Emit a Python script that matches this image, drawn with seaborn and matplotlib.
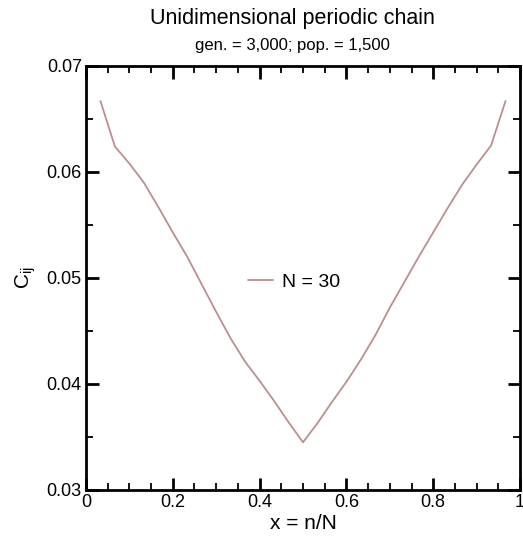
import numpy as np
import pandas as pd
import seaborn as sns
import matplotlib.pyplot as plt
from matplotlib.ticker import MultipleLocator

# Correlation C_ij along a periodic chain of N = 30 sites
n_sites = 30
n_values = list(range(1, 30))
c_ij = [0.0667, 0.0624, 0.0608, 0.0590, 0.0567, 0.0543, 0.0520, 0.0494,
        0.0468, 0.0443, 0.0421, 0.0403, 0.0384, 0.0364, 0.0345, 0.0363,
        0.0383, 0.0402, 0.0423, 0.0446, 0.0472, 0.0496, 0.0520, 0.0543,
        0.0566, 0.0588, 0.0607, 0.0625, 0.0667]

df = pd.DataFrame({"x": np.array(n_values) / n_sites, "C": c_ij})

sns.set_style("ticks")
plt.rcParams['font.family'] = ['Liberation Sans', 'DejaVu Sans']
plt.rcParams['text.color'] = 'black'
plt.rcParams['axes.labelcolor'] = 'black'

fig = plt.figure(figsize=(5.23, 5.4), dpi=100)
ax = fig.add_axes([0.1644, 0.0926, 0.8299, 0.7852])

sns.lineplot(data=df, x="x", y="C", ax=ax, color="#bc8f8f", linewidth=1.3,
             label="N = 30")

ax.set_xlim(0, 1)
ax.set_ylim(0.03, 0.07)
ax.xaxis.set_minor_locator(MultipleLocator(0.05))
ax.yaxis.set_minor_locator(MultipleLocator(0.005))
ax.set_xticks([0, 0.2, 0.4, 0.6, 0.8, 1.0])
ax.set_xticklabels(["0", "0.2", "0.4", "0.6", "0.8", "1"])
ax.set_yticks([0.03, 0.04, 0.05, 0.06, 0.07])
ax.set_yticklabels(["0.03", "0.04", "0.05", "0.06", "0.07"])

ax.tick_params(which="both", direction="in", top=True, right=True,
               labelsize=13, pad=3, colors="black")
ax.tick_params(which="major", length=9, width=2)
ax.tick_params(which="minor", length=5, width=1.3)
for s in ax.spines.values():
    s.set_linewidth(2)
    s.set_color("black")

ax.set_xlabel("x = n/N", fontsize=15, labelpad=2)
ax.set_ylabel(r"C$_{\mathregular{ij}}$", fontsize=15, labelpad=6)

fig.text(0.56, 0.966, "Unidimensional periodic chain", ha="center",
         va="center", fontsize=15.5)
fig.text(0.56, 0.916, "gen. = 3,000; pop. = 1,500", ha="center",
         va="center", fontsize=12)

leg = ax.legend(loc="center", bbox_to_anchor=(0.48, 0.49), frameon=False,
                fontsize=14, handlelength=1.25, handletextpad=0.5)

plt.savefig("out.png", dpi=100)
